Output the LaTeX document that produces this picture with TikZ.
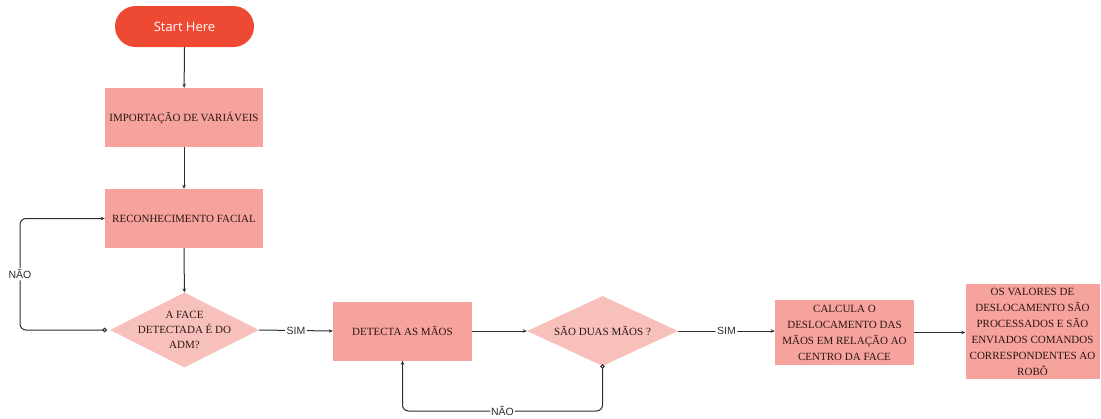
\documentclass[tikz,border=0pt]{standalone}
\usepackage{fontspec}
\setmainfont{Liberation Serif}
\newfontfamily\labelfont{Liberation Sans}
\newfontfamily\startfont{Open Sans}
\usetikzlibrary{shapes.geometric,arrows.meta}
\definecolor{startred}{HTML}{EE4A33}
\definecolor{boxfill}{HTML}{F5A39C}
\definecolor{diafill}{HTML}{F7C0BB}
\definecolor{txtcol}{HTML}{2E1616}
\definecolor{linecol}{HTML}{2E2E2E}
\tikzset{
  x=1pt,y=-1pt,
  stepbox/.style={rectangle,fill=boxfill,inner sep=0pt,text=txtcol,align=center,
    font=\fontsize{11}{16}\selectfont},
  diabox/.style={diamond,fill=diafill,inner sep=0pt},
  diatext/.style={text=txtcol,align=center,font=\fontsize{11}{15}\selectfont},
  conn/.style={draw=linecol,line width=1pt,-{Stealth[length=4pt,width=3.5pt]},rounded corners=6pt},
  circconn/.style={draw=linecol,line width=1pt,{Circle[open,length=4.5pt,width=4.5pt,fill=white]}-{Stealth[length=4pt,width=3.5pt]},rounded corners=6pt},
  lbl/.style={fill=white,inner sep=1.5pt,text=linecol,font=\labelfont\fontsize{10.5}{12}\selectfont}
}
\begin{document}
\begin{tikzpicture}
\useasboundingbox (0,0) rectangle (1101,418);
\node[rectangle,rounded corners=20.5pt,fill=startred,minimum width=139pt,minimum height=41pt,
  text=white,font=\startfont\fontsize{13}{15}\selectfont] (start) at (184.5,26.5) {Start Here};
\node[stepbox,minimum width=158pt,minimum height=59pt] (imp) at (184,117.5) {IMPORTAÇÃO DE VARIÁVEIS};
\node[stepbox,minimum width=158pt,minimum height=59pt] (rec) at (184,218.5) {RECONHECIMENTO FACIAL};
\node[diabox,minimum width=149pt,minimum height=75pt] (d1) at (184.5,330) {};
\node[diatext] (d1t) at (184.5,330) {A FACE\\DETECTADA É DO\\ADM?};
\node[stepbox,minimum width=139pt,minimum height=59pt] (det) at (402.5,331) {DETECTA AS MÃOS};
\node[diabox,minimum width=151pt,minimum height=70pt] (d2) at (602.5,331) {};
\node[diatext] (d2t) at (602.5,331) {SÃO DUAS MÃOS ?};
\node[stepbox,minimum width=139pt,minimum height=65pt] (calc) at (844.5,332.5) {CALCULA O\\DESLOCAMENTO DAS\\MÃOS EM RELAÇÃO AO\\CENTRO DA FACE};
\node[stepbox,minimum width=134pt,minimum height=95pt] (val) at (1032.5,331.5) {OS VALORES DE\\DESLOCAMENTO SÃO\\PROCESSADOS E SÃO\\ENVIADOS COMANDOS\\CORRESPONDENTES AO\\ROBÔ};
\coordinate (c1) at (20,330);
\coordinate (c2) at (20,218.5);
\coordinate (c3) at (602.5,411);
\coordinate (c4) at (402.5,411);
\draw[conn] (start) -- (imp);
\draw[conn] (imp) -- (rec);
\draw[conn] (rec) -- (d1);
\draw[conn] (d1.east) -- node[lbl,pos=0.5] (sim1) {SIM} (det.west);
\draw[conn] (det.east) -- (d2.west);
\draw[conn] (d2.east) -- node[lbl,pos=0.5] (sim2) {SIM} (calc.west |- d2.east);
\draw[conn] (calc.east) -- (val.west |- calc.east);
\draw[circconn] ([xshift=-3pt]d1.west) -- (c1) -- node[lbl,pos=0.5] (nao1) {NÃO} (c2) -- (rec.west);
\draw[circconn] ([yshift=2pt]d2.south) -- (c3) -- node[lbl,pos=0.5,inner sep=1pt] (nao2) {NÃO} (c4) -- (det.south);
\end{tikzpicture}
\end{document}
